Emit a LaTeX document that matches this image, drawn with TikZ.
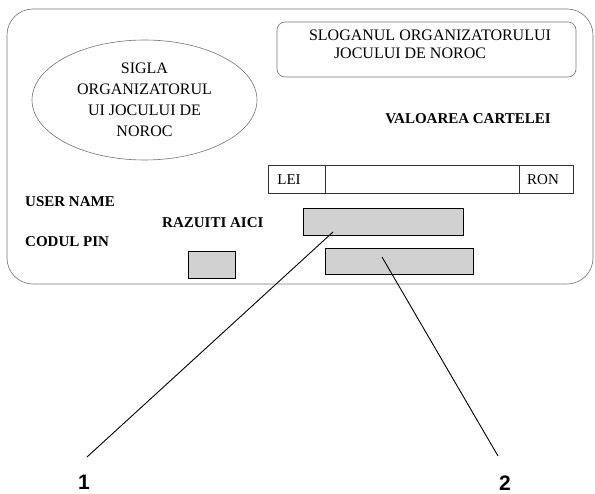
\documentclass[tikz,border=0pt]{standalone}
\usepackage{fontspec}
\setmainfont{Liberation Serif}
\newfontfamily\numfont{Liberation Sans}
\usetikzlibrary{shapes.geometric}
\tikzset{
  cardline/.style={draw=black!55, line width=0.6pt},
  scratch/.style={draw=black, line width=0.9pt, fill=black!18},
  barbox/.style={draw=black!80, line width=0.7pt},
  boldtxt/.style={font=\bfseries\fontsize{15}{18}\selectfont, inner sep=0pt},
  regtxt/.style={font=\fontsize{16}{18}\selectfont, inner sep=0pt},
  smalltxt/.style={font=\fontsize{15}{17}\selectfont, inner sep=0pt},
  numtxt/.style={font=\numfont\bfseries\fontsize{21}{24}\selectfont, inner sep=0pt},
  leader/.style={draw=black, line width=0.9pt}
}
\begin{document}
\begin{tikzpicture}[x=1pt,y=-1pt]
\useasboundingbox (0,0) rectangle (595,494);
% card
\draw[cardline, rounded corners=26pt] (7,9) rectangle (593,284);
% logo ellipse
\node[cardline, ellipse, minimum width=225pt, minimum height=120pt, inner sep=0pt,
      align=center, font=\fontsize{16}{21}\selectfont] (logo) at (144.5,100)
      {SIGLA\\ORGANIZATORUL\\UI JOCULUI DE\\NOROC};
% slogan box
\draw[cardline, rounded corners=8pt] (277,22) rectangle (576,77);
\node[regtxt] (slog1) at (430,35) {SLOGANUL ORGANIZATORULUI};
\node[regtxt] (slog2) at (410,53) {JOCULUI DE NOROC};
% value
\node[boldtxt] (val) at (468,119) {VALOAREA CARTELEI};
% bar
\draw[barbox] (268,165) rectangle (573,193);
\draw[barbox] (325,165) -- (325,193);
\draw[barbox] (519,165) -- (519,193);
\node[smalltxt] (lei) at (289,180) {LEI};
\node[smalltxt] (ron) at (543,180) {RON};
% labels
\node[boldtxt, anchor=west] (user) at (25,202) {USER NAME};
\node[boldtxt, anchor=west] (pin) at (25,242) {CODUL PIN};
\node[boldtxt, anchor=west] (raz) at (162,223) {RAZUITI AICI};
% scratch areas
\draw[scratch] (303,208) rectangle (463,235);
\draw[scratch] (325,248) rectangle (473,274);
\draw[scratch] (188,251) rectangle (235,278);
\coordinate (p1) at (333,232);
\coordinate (p2) at (382,257);
\coordinate (q1) at (87,457);
\coordinate (q2) at (498,456);
% callouts
\node[numtxt] (n1) at (84,482) {1};
\node[numtxt] (n2) at (505,483) {2};
\draw[leader] (q1) -- (p1);
\draw[leader] (q2) -- (p2);
\end{tikzpicture}
\end{document}
